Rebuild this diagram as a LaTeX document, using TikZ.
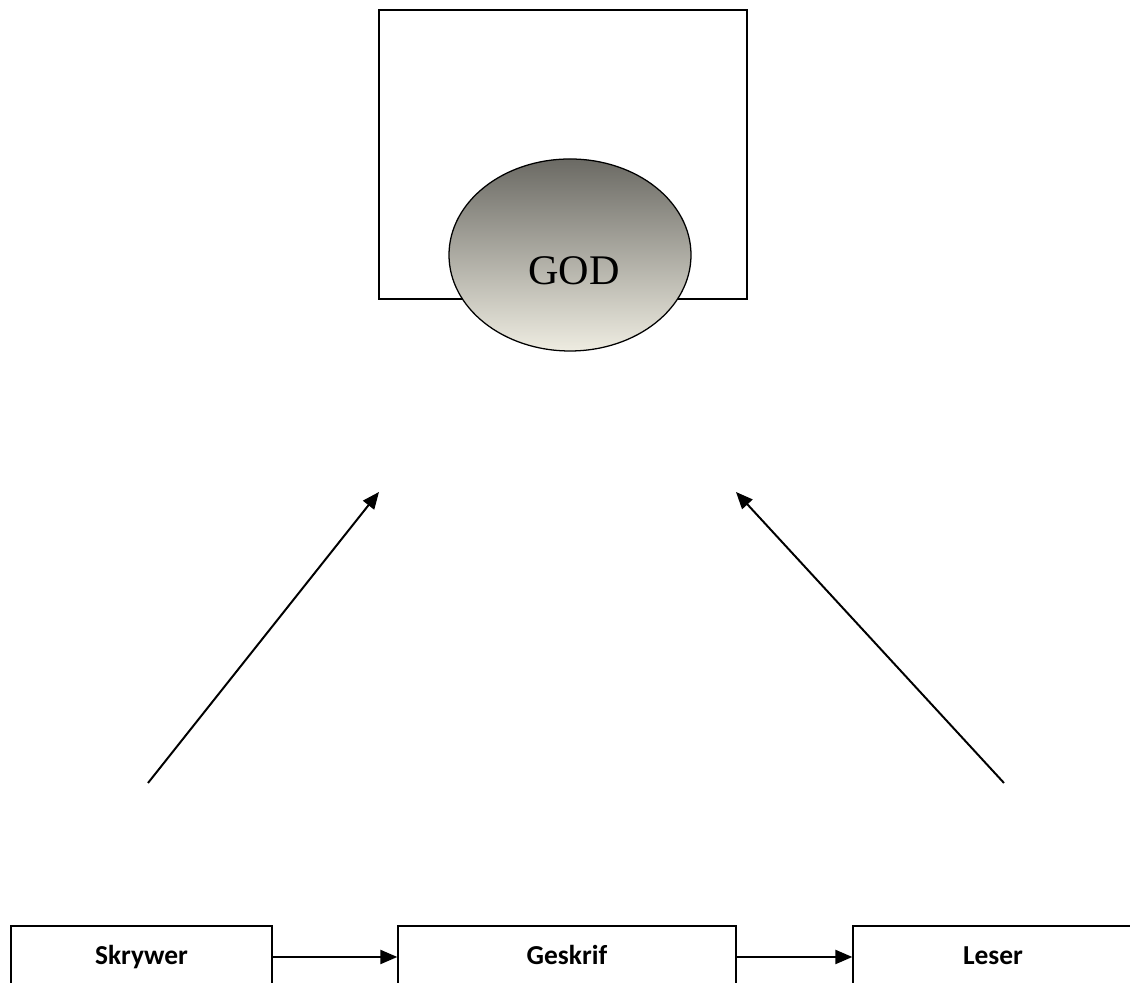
\documentclass[tikz,border=0pt]{standalone}
\usepackage{fontspec}
\setmainfont{Liberation Serif}
\newfontfamily\boxfont{Carlito}
\usetikzlibrary{shapes.geometric,arrows.meta,positioning,calc}
\definecolor{godtop}{HTML}{6B6A64}
\definecolor{godmid}{HTML}{ABAAA3}
\definecolor{godbot}{HTML}{EEECE1}
\tikzset{
    frame/.style={draw, line width=1pt, minimum width=9.2cm, minimum height=7.225cm, inner sep=0pt},
    godshape/.style={draw, ellipse, line width=0.9pt, minimum width=6.05cm, minimum height=4.8cm,
                     top color=godtop, middle color=godmid, bottom color=godbot},
    godtext/.style={font=\fontsize{30}{34}\selectfont},
    box/.style={draw, line width=1pt, minimum height=1.55cm, inner sep=0pt,
                text height=13.5pt, text depth=3.5pt,
                font=\boxfont\bfseries\fontsize{19.5}{23}\selectfont},
    flow/.style={line width=1.3pt, -{Triangle[length=12pt, width=10pt]}},
    rise/.style={line width=1.4pt, -{Triangle[length=12pt, width=10pt]}},
}

\begin{document}
\begin{tikzpicture}[scale=1]
    \useasboundingbox (0,0) rectangle (28.25,24.575);
    \clip (0,0) rectangle (28.25,24.575);

    % Frame with GOD
    \node[frame] (frame) at (14.075,20.7125) {};
    \node[godshape] (god) at (14.25,18.2) {};
    \node[godtext] (godlbl) at (14.35,17.8) {GOD};

    % Rising arrows
    \coordinate (lefttail) at (3.7,5.0);
    \coordinate (lefttip) at (9.475,12.275);
    \coordinate (righttail) at (25.1,5.0);
    \coordinate (righttip) at (18.4,12.275);
    \draw[rise] (lefttail) -- (lefttip);
    \draw[rise] (righttail) -- (righttip);

    % Bottom chain
    \node[box, minimum width=6.525cm] (skrywer) at (3.5375,0.65) {Skrywer};
    \node[box, minimum width=8.45cm] (geskrif) at (14.175,0.65) {Geskrif};
    \node[box, minimum width=7.0cm] (leser) at (24.825,0.65) {Leser};
    \draw[flow] (skrywer.east) -- (geskrif.west);
    \draw[flow] (geskrif.east) -- (leser.west);
\end{tikzpicture}
\end{document}
